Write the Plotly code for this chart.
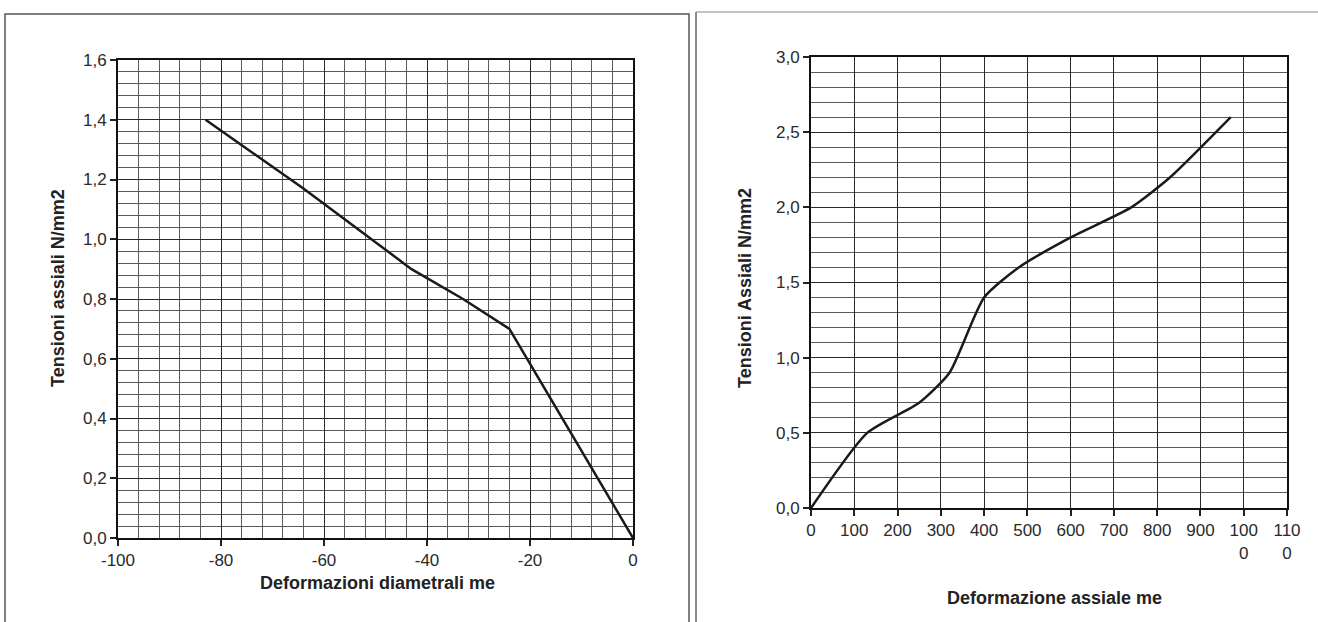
import plotly.graph_objects as go

W, H = 1318, 622

# Left chart: diametral strain vs axial stress
diam_strain = [-83, -64, -43, -33, -24, 0]
diam_stress = [1.4, 1.17, 0.9, 0.8, 0.7, 0.0]

# Right chart: axial strain vs axial stress
ax_strain = [0, 130, 250, 320, 400, 480, 600, 740, 830, 970]
ax_stress = [0.0, 0.5, 0.7, 0.9, 1.4, 1.6, 1.8, 2.0, 2.2, 2.6]

left_xticks = [-100, -80, -60, -40, -20, 0]
left_xtext = ["-100", "-80", "-60", "-40", "-20", "0"]
left_yticks = [0.0, 0.2, 0.4, 0.6, 0.8, 1.0, 1.2, 1.4, 1.6]
right_xticks = [0, 100, 200, 300, 400, 500, 600, 700, 800, 900, 1000, 1100]
right_xtext = ["0", "100", "200", "300", "400", "500", "600", "700", "800", "900", "100<br>0", "110<br>0"]
right_yticks = [0.0, 0.5, 1.0, 1.5, 2.0, 2.5, 3.0]


def px(x):
    return x / W


def py(y):
    return 1 - y / H


FONT = "Liberation Sans, Arial, sans-serif"
TITLE_FONT = dict(family=FONT, size=18, color="#222")

fig = go.Figure()
fig.add_trace(go.Scatter(x=diam_strain, y=diam_stress, mode="lines",
                         line=dict(color="#1a1a1a", width=2.5), xaxis="x", yaxis="y",
                         showlegend=False, hoverinfo="x+y"))
fig.add_trace(go.Scatter(x=ax_strain, y=ax_stress, mode="lines",
                         line=dict(color="#1a1a1a", width=2.5, shape="spline", smoothing=0.6),
                         xaxis="x2", yaxis="y2", showlegend=False, hoverinfo="x+y"))

axis_common = dict(showline=True, linecolor="#111", linewidth=2, mirror=True,
                   ticks="outside", ticklen=6, tickcolor="#222", tickwidth=1.5,
                   gridcolor="#2a2a2a", gridwidth=1.2, zeroline=False, automargin=False,
                   tickangle=0,
                   tickfont=dict(family=FONT, size=17, color="#2a2a2a"))
minor_common = dict(showgrid=True, gridcolor="#5a5a5a", gridwidth=1, ticks="")

fig.update_layout(
    width=W, height=H,
    margin=dict(l=0, r=0, t=0, b=0, pad=0, autoexpand=False),
    paper_bgcolor="white", plot_bgcolor="white",
    showlegend=False,
    separators=",.",
    font=dict(family=FONT, color="#222"),
    xaxis=dict(domain=[px(118), px(633)], range=[-100, 0], tickvals=left_xticks, ticktext=left_xtext,
               minor=dict(dtick=4, tick0=0, **minor_common),
               anchor="y", **axis_common),
    yaxis=dict(domain=[py(538), py(60)], range=[0, 1.6], tickvals=left_yticks, tickformat=".1f",
               minor=dict(dtick=0.04, tick0=0, **minor_common),
               anchor="x", **axis_common),
    xaxis2=dict(domain=[px(811), px(1287)], range=[0, 1100], tickvals=right_xticks, ticktext=right_xtext,
                minor=dict(dtick=100, tick0=0, **minor_common),
                anchor="y2", **axis_common),
    yaxis2=dict(domain=[py(508), py(57)], range=[0, 3.0], tickvals=right_yticks, tickformat=".1f",
                minor=dict(dtick=0.1, tick0=0, **minor_common),
                anchor="x2", **axis_common),
    annotations=[
        dict(text="<b>Deformazioni diametrali me</b>", x=px(377), y=py(583), xref="paper", yref="paper",
             showarrow=False, font=TITLE_FONT, xanchor="center", yanchor="middle"),
        dict(text="<b>Tensioni assiali N/mm2</b>", x=px(58), y=py(288), xref="paper", yref="paper",
             showarrow=False, textangle=-90, font=TITLE_FONT, xanchor="center", yanchor="middle"),
        dict(text="<b>Deformazione assiale me</b>", x=px(1054), y=py(598), xref="paper", yref="paper",
             showarrow=False, font=TITLE_FONT, xanchor="center", yanchor="middle"),
        dict(text="<b>Tensioni Assiali N/mm2</b>", x=px(745), y=py(288), xref="paper", yref="paper",
             showarrow=False, textangle=-90, font=TITLE_FONT, xanchor="center", yanchor="middle"),
    ],
    shapes=[
        dict(type="rect", xref="paper", yref="paper", x0=px(5), x1=px(689), y0=py(640), y1=py(14),
             line=dict(color="#555", width=1.5)),
        dict(type="line", xref="paper", yref="paper", x0=px(696), x1=px(696), y0=py(622), y1=py(12),
             line=dict(color="#666", width=1.5)),
        dict(type="line", xref="paper", yref="paper", x0=px(696), x1=px(1318), y0=py(12), y1=py(12),
             line=dict(color="#888", width=1.2)),
    ],
)

fig.write_html("out.html")
